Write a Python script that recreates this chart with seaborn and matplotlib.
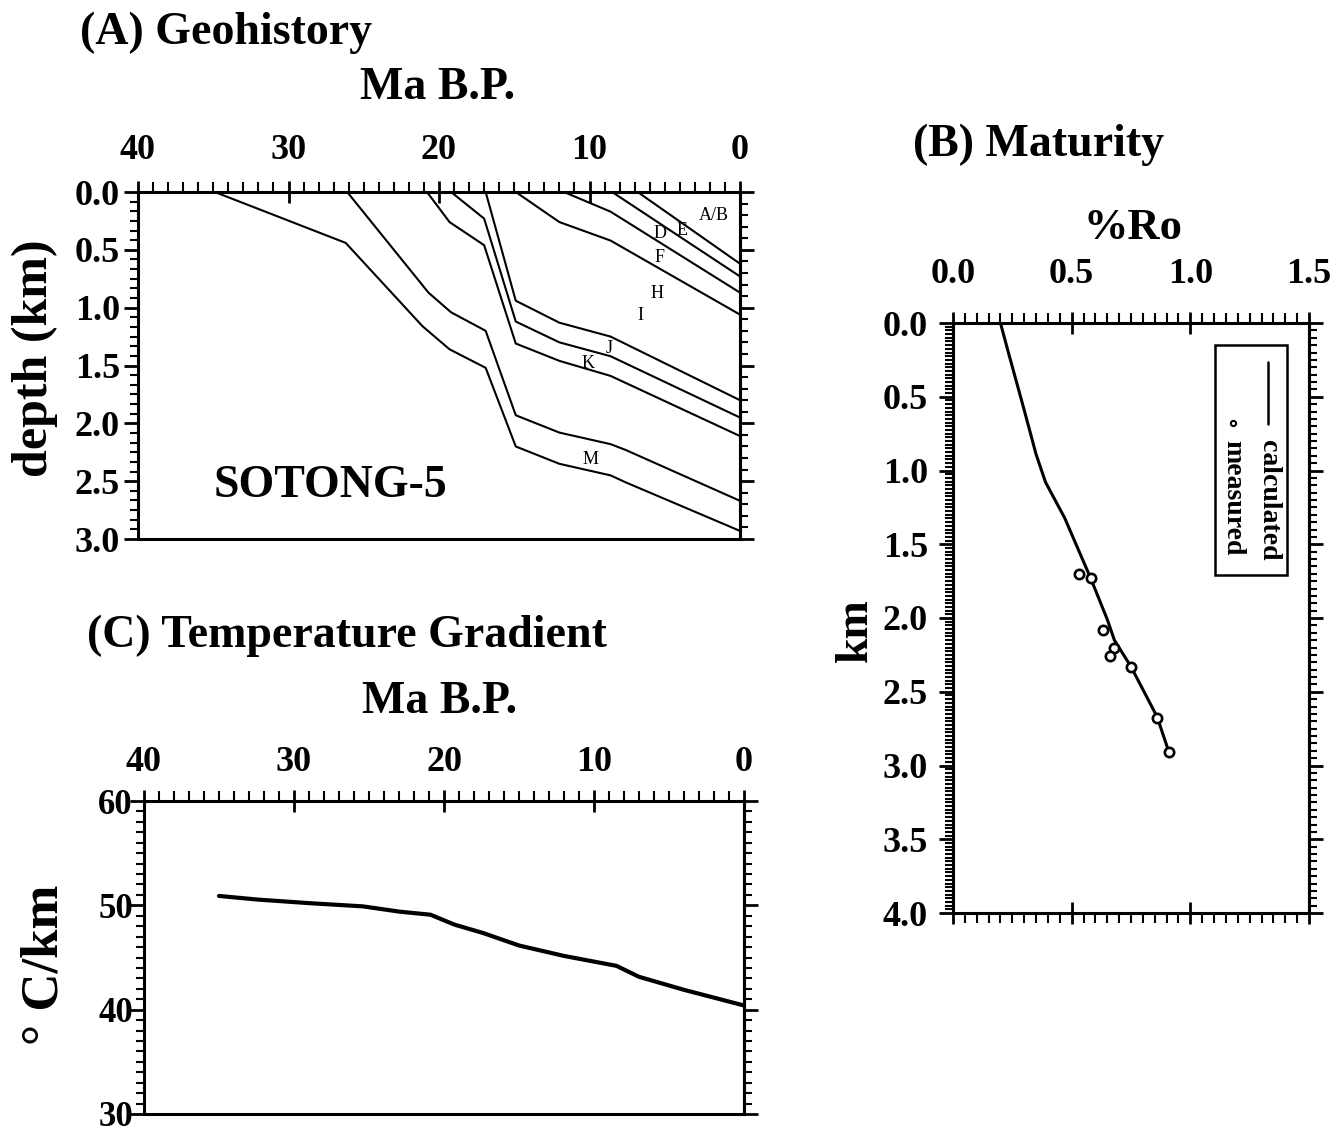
import matplotlib
matplotlib.use("Agg")
import matplotlib.pyplot as plt
from matplotlib.ticker import MultipleLocator, FormatStrFormatter
import pandas as pd
import seaborn as sns

# ---------------- data ----------------
# (A) geohistory: burial paths of the stratigraphic horizons (age Ma, depth km)
hz1_age = [34.9, 26.2, 21.1, 19.3, 16.9, 14.9, 12.0, 8.6, 7.6, 0.0]
hz1_depth = [0.0, 0.44, 1.16, 1.36, 1.52, 2.20, 2.35, 2.45, 2.51, 2.93]
hz2_age = [26.1, 20.7, 19.2, 16.9, 14.9, 12.0, 8.6, 7.6, 0.0]
hz2_depth = [0.0, 0.87, 1.04, 1.20, 1.93, 2.08, 2.18, 2.23, 2.67]
hz3_age = [20.8, 19.3, 17.0, 14.9, 12.0, 8.6, 0.0]
hz3_depth = [0.0, 0.26, 0.46, 1.31, 1.46, 1.59, 2.11]
hz4_age = [19.2, 17.0, 14.9, 12.0, 8.6, 0.0]
hz4_depth = [0.0, 0.23, 1.12, 1.30, 1.42, 1.95]
hz5_age = [16.9, 14.9, 12.0, 8.6, 0.0]
hz5_depth = [0.0, 0.94, 1.13, 1.25, 1.80]
hz6_age = [14.9, 12.0, 8.6, 0.0]
hz6_depth = [0.0, 0.26, 0.42, 1.06]
hz7_age = [11.7, 8.6, 0.0]
hz7_depth = [0.0, 0.17, 0.87]
hz8_age = [8.5, 0.0]
hz8_depth = [0.0, 0.73]
hz9_age = [6.8, 0.0]
hz9_depth = [0.0, 0.62]

unit_labels = ["A/B", "E", "D", "F", "H", "I", "J", "K", "M"]
unit_label_age = [1.77, 3.83, 5.32, 5.38, 5.53, 6.64, 8.68, 10.08, 9.95]
unit_label_depth = [0.20, 0.33, 0.36, 0.57, 0.88, 1.07, 1.35, 1.48, 2.31]

# (B) maturity: vitrinite reflectance vs depth
ro_calc = [0.20, 0.23, 0.30, 0.35, 0.39, 0.47, 0.58, 0.65, 0.68, 0.75, 0.86, 0.91]
depth_calc = [0.0, 0.18, 0.59, 0.89, 1.08, 1.32, 1.73, 2.01, 2.15, 2.33, 2.67, 2.91]
ro_meas = [0.53, 0.58, 0.63, 0.68, 0.66, 0.75, 0.86, 0.91]
depth_meas = [1.70, 1.73, 2.08, 2.20, 2.26, 2.33, 2.68, 2.91]

# (C) temperature gradient history
grad_age = [35.0, 32.4, 28.9, 25.4, 23.0, 20.9, 19.3, 17.4, 15.0, 12.0, 8.5, 7.0, 4.0, 0.0]
grad_value = [50.9, 50.55, 50.2, 49.9, 49.4, 49.1, 48.15, 47.35, 46.15, 45.15, 44.2, 43.15, 41.9, 40.4]

# ---------------- style ----------------
sns.set_style("ticks")
plt.rcParams["font.family"] = ["Liberation Serif", "DejaVu Serif"]
plt.rcParams["font.weight"] = "bold"
plt.rcParams["axes.linewidth"] = 2.0
for key in ["text.color", "axes.labelcolor", "xtick.color", "ytick.color",
            "axes.edgecolor", "xtick.labelcolor", "ytick.labelcolor"]:
    plt.rcParams[key] = "black"

W, H = 1335, 1132
fig = plt.figure(figsize=(W / 100, H / 100), dpi=100)


def rect(l, t, r, b):
    return [l / W, 1 - b / H, (r - l) / W, (b - t) / H]


def ftext(x, y, s, **kw):
    fig.text(x / W, 1 - y / H, s, color="black", **kw)


def frame(ax, xmaj, xmin, ymaj, ymin_left, ymin_right, xfmt, yfmt,
          xpad, ypad, bottom_ticks=False, ylabelsize=26):
    ax.xaxis.tick_top()
    ax.xaxis.set_major_locator(MultipleLocator(xmaj))
    ax.xaxis.set_minor_locator(MultipleLocator(xmin))
    ax.xaxis.set_major_formatter(FormatStrFormatter(xfmt))
    ax.yaxis.set_major_locator(MultipleLocator(ymaj))
    ax.yaxis.set_minor_locator(MultipleLocator(ymin_left))
    ax.yaxis.set_major_formatter(FormatStrFormatter(yfmt))
    ax.tick_params(axis="x", which="major", direction="inout", length=16,
                   width=2, top=True, bottom=bottom_ticks, labeltop=True,
                   labelbottom=False, labelsize=26, pad=xpad,
                   color="black", labelcolor="black")
    ax.tick_params(axis="x", which="minor", direction="out", length=7,
                   width=1.5, top=True, bottom=bottom_ticks, color="black")
    ax.tick_params(axis="y", which="major", direction="out", length=10,
                   width=2, left=True, right=False, labelsize=ylabelsize,
                   pad=ypad, color="black", labelcolor="black")
    ax.tick_params(axis="y", which="minor", direction="out", length=6,
                   width=1.5, left=True, right=False, color="black")
    for s in ax.spines.values():
        s.set_visible(True)
        s.set_linewidth(2.2)
        s.set_color("black")
    sec = ax.secondary_yaxis("right")
    sec.yaxis.set_major_locator(MultipleLocator(ymaj))
    sec.yaxis.set_minor_locator(MultipleLocator(ymin_right))
    sec.tick_params(which="major", direction="out", length=10, width=2,
                    labelright=False, color="black")
    sec.tick_params(which="minor", direction="out", length=6, width=1.5,
                    color="black")
    sec.spines["right"].set_linewidth(2.2)
    sec.spines["right"].set_color("black")
    ax.set_xlabel("")
    ax.set_ylabel("")
    ax.grid(False)


# ---------------- (A) Geohistory ----------------
axA = fig.add_axes(rect(138, 192, 740, 539))
horizons = {
    "hz1": (hz1_age, hz1_depth), "hz2": (hz2_age, hz2_depth),
    "hz3": (hz3_age, hz3_depth), "hz4": (hz4_age, hz4_depth),
    "hz5": (hz5_age, hz5_depth), "hz6": (hz6_age, hz6_depth),
    "hz7": (hz7_age, hz7_depth), "hz8": (hz8_age, hz8_depth),
    "hz9": (hz9_age, hz9_depth),
}
geo = pd.concat([pd.DataFrame({"horizon": k, "age": a, "depth": d})
                 for k, (a, d) in horizons.items()], ignore_index=True)
sns.lineplot(data=geo, x="age", y="depth", units="horizon", estimator=None,
             sort=False, color="black", lw=1.5, ax=axA, legend=False)
axA.set_xlim(40, 0)
axA.set_ylim(3, 0)
frame(axA, 10, 1, 0.5, 0.5 / 6, 0.1, "%d", "%.1f", xpad=10, ypad=3)
for lab, a, d in zip(unit_labels, unit_label_age, unit_label_depth):
    axA.text(a, d, lab, ha="center", va="center", fontsize=13,
             fontweight="normal", color="black")
axA.text(27.2, 2.54, "SOTONG-5", ha="center", va="center", fontsize=33,
         fontweight="bold", color="black")

ftext(80, 33, "(A) Geohistory", ha="left", va="center", fontsize=33)
ftext(438, 88, "Ma B.P.", ha="center", va="center", fontsize=33)
ftext(35, 358, "depth (km)", ha="center", va="center", fontsize=36,
      rotation=90)

# ---------------- (B) Maturity ----------------
axB = fig.add_axes(rect(953, 323, 1309, 913))
sns.lineplot(x=ro_calc, y=depth_calc, sort=False, estimator=None,
             color="black", lw=2.2, ax=axB)
sns.scatterplot(x=ro_meas, y=depth_meas, ax=axB, marker="o", s=45,
                color="white", edgecolor="black", linewidth=1.9, zorder=3)
axB.set_xlim(0, 1.5)
axB.set_ylim(4, 0)
frame(axB, 0.5, 0.05, 0.5, 0.025, 0.05, "%.1f", "%.1f", xpad=15, ypad=8,
      bottom_ticks=True)

# legend box, written sideways
axB.add_patch(plt.Rectangle((0.736, 0.573), 0.202, 0.389,
                            transform=axB.transAxes, fill=False,
                            lw=1.8, ec="black", zorder=4))
axB.plot([0.885, 0.885], [0.934, 0.829], transform=axB.transAxes,
         color="black", lw=1.8)
axB.scatter([0.787], [0.830], transform=axB.transAxes, s=14,
            facecolor="white", edgecolor="black", linewidth=1.5, zorder=5)
axB.text(0.885, 0.802, "calculated", transform=axB.transAxes, rotation=-90,
         rotation_mode="anchor", ha="left", va="center", fontsize=20,
         color="black")
axB.text(0.787, 0.802, "measured", transform=axB.transAxes, rotation=-90,
         rotation_mode="anchor", ha="left", va="center", fontsize=20,
         color="black")

ftext(913, 145, "(B) Maturity", ha="left", va="center", fontsize=33)
ftext(1133, 228, "%Ro", ha="center", va="center", fontsize=32)
ftext(856, 630, "km", ha="center", va="center", fontsize=33, rotation=90)

# ---------------- (C) Temperature Gradient ----------------
axC = fig.add_axes(rect(144, 801, 744, 1114))
sns.lineplot(x=grad_age, y=grad_value, sort=False, estimator=None,
             color="black", lw=3.0, ax=axC)
axC.set_xlim(40, 0)
axC.set_ylim(30, 60)
frame(axC, 10, 1, 10, 1, 1, "%d", "%d", xpad=8, ypad=-2, ylabelsize=25)

ftext(87, 636, "(C) Temperature Gradient", ha="left", va="center",
      fontsize=33)
ftext(440, 702, "Ma B.P.", ha="center", va="center", fontsize=33)
ftext(45, 965, "\u00b0 C/km", ha="center", va="center", fontsize=38,
      rotation=90)

fig.savefig("out.png", dpi=100, facecolor="white")
